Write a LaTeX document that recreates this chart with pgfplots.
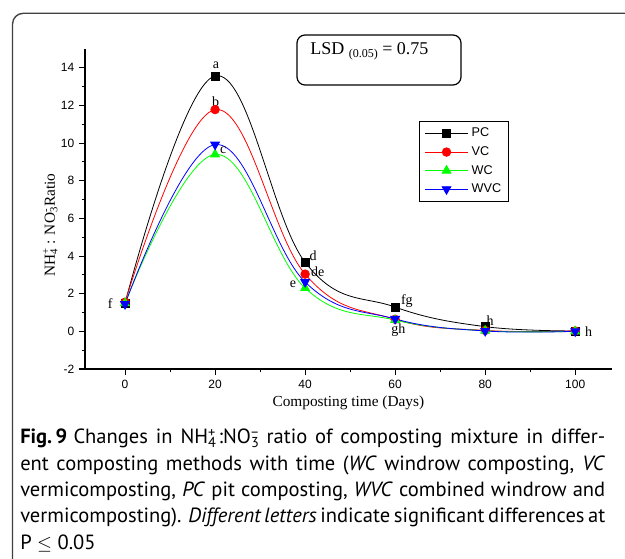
\documentclass[border=0pt]{standalone}
\usepackage{pgfplots}
\pgfplotsset{compat=1.18}
\usepackage{fontspec}
\setmainfont{Liberation Sans}
\newfontfamily\timesfont{Liberation Serif}
\newfontfamily\capfont{PT Sans}

% stacked ion charge over index: NH_4^+
\newcommand\ion[3]{#1\rlap{\textsuperscript{#3}}\textsubscript{#2}}

% one justified caption line
\newcommand\capline[1]{\hbox to 438.75pt{#1}}

\begin{document}
\begin{tikzpicture}[x=1pt,y=1pt]
\path[use as bounding box] (0,0) rectangle (468.75,-419.25);

% outer figure frame
\draw[line width=1pt, black!75, rounded corners=8pt]
  (9.4,-421) -- (9.4,-10) -- (470,-10);

\begin{axis}[
  at={(63.75pt,-276.75pt)}, anchor=south west,
  scale only axis, width=395pt, height=240pt,
  xmin=-8.9, xmax=108.1, ymin=-2, ymax=15,
  axis lines*=left,
  axis line style={line width=0.8pt},
  xtick={0,20,...,100}, ytick={-2,0,...,14},
  minor x tick num=1, minor y tick num=1,
  tick align=outside,
  major tick length=4.5pt, minor tick length=2.5pt,
  tick style={line width=0.8pt, black},
  tick label style={font=\fontsize{9}{10}\selectfont},
  /pgf/number format/assume math mode=true,
  xlabel={\timesfont Composting time (Days)},
  xlabel style={font=\fontsize{11.5}{12}\selectfont, at={(axis description cs:0.5,-0.105)}, anchor=center},
  ylabel={\timesfont \ion{NH}{4}{+} : \ion{NO}{3}{-}Ratio},
  ylabel style={font=\fontsize{11.5}{12}\selectfont, at={(axis description cs:-0.066,0.45)}, anchor=center},
  legend style={at={(0.6343,0.775)}, anchor=north west,
    draw=black, line width=0.6pt,
    font=\fontsize{9.5}{11}\selectfont,
    inner xsep=4pt, inner ysep=3.5pt, row sep=2.8pt,
    nodes={inner sep=1.5pt},
    /tikz/every odd column/.append style={column sep=1pt}},
  legend cell align=left,
  legend image code/.code={%
    \draw[mark repeat=2, mark phase=2, #1]
      plot coordinates {(0pt,0pt) (16pt,0pt) (32pt,0pt)};},
  every axis plot/.append style={line width=0.6pt, smooth, tension=0.66},
  clip=false,
]
\addplot[black, mark=square*, mark size=3pt, mark options={fill=black}]
  coordinates {(0,1.50) (20,13.57) (40,3.67) (60,1.29) (80,0.25) (100,0.02)};
\addlegendentry{PC}
\addplot[red, mark=*, mark size=3.2pt, mark options={fill=red}]
  coordinates {(0,1.55) (20,11.78) (40,3.04) (60,0.64) (80,0.05) (100,0.02)};
\addlegendentry{VC}
\addplot[green, mark=triangle*, mark size=3.8pt, mark options={fill=green}]
  coordinates {(0,1.50) (20,9.40) (40,2.30) (60,0.60) (80,0.03) (100,0.00)};
\addlegendentry{WC}
\addplot[blue, mark=triangle*, mark size=3.8pt, mark options={fill=blue, rotate=180}]
  coordinates {(0,1.45) (20,9.92) (40,2.62) (60,0.66) (80,0.02) (100,0.00)};
\addlegendentry{WVC}

% significance letters
\begin{scope}[every node/.style={font=\timesfont\fontsize{10.5}{11}\selectfont, inner sep=0pt}]
\node at (axis cs:20.2,14.13) {a};
\node at (axis cs:20.1,12.22) {b};
\node at (axis cs:21.8,9.62) {c};
\node at (axis cs:41.8,4.04) {d};
\node at (axis cs:42.8,3.19) {de};
\node at (axis cs:37.3,2.48) {e};
\node at (axis cs:-3.3,1.49) {f};
\node at (axis cs:62.6,1.59) {fg};
\node at (axis cs:60.7,0.09) {gh};
\node at (axis cs:81.1,0.55) {h};
\node at (axis cs:103.0,-0.04) {h};
\end{scope}
\end{axis}

% LSD box
\draw[line width=0.9pt, rounded corners=6pt] (222.75,-26.25) rectangle (345.75,-63.75);
\node[anchor=base west, inner sep=0pt, font=\timesfont\fontsize{13.5}{14}\selectfont]
  at (232.5,-40.7) {LSD {\fontsize{9}{10}\selectfont\raisebox{-2.5pt}{(0.05)}} = 0.75};

% caption
\begin{scope}[every node/.style={anchor=base west, inner sep=0pt, font=\capfont\fontsize{15.4}{18}\selectfont}]
\node at (15,-333) {\capline{\textbf{Fig.\,9}\hspace{0.3em}Changes in \ion{NH}{4}{+}\kern0.1em:\ion{NO}{3}{\textminus}\hspace{0.35em}ratio of composting mixture in differ-}};
\node at (15,-352.7) {\capline{ent composting methods with time (\textit{WC} windrow composting, \textit{VC}}};
\node at (15,-372.4) {\capline{vermicomposting, \textit{PC} pit composting, \textit{WVC} combined windrow and}};
\node at (15,-392.1) {\capline{vermicomposting). \textit{Different letters} indicate significant differences at}};
\node at (15,-411.8) {P $\leq$ 0.05};
\end{scope}
\end{tikzpicture}
\end{document}
